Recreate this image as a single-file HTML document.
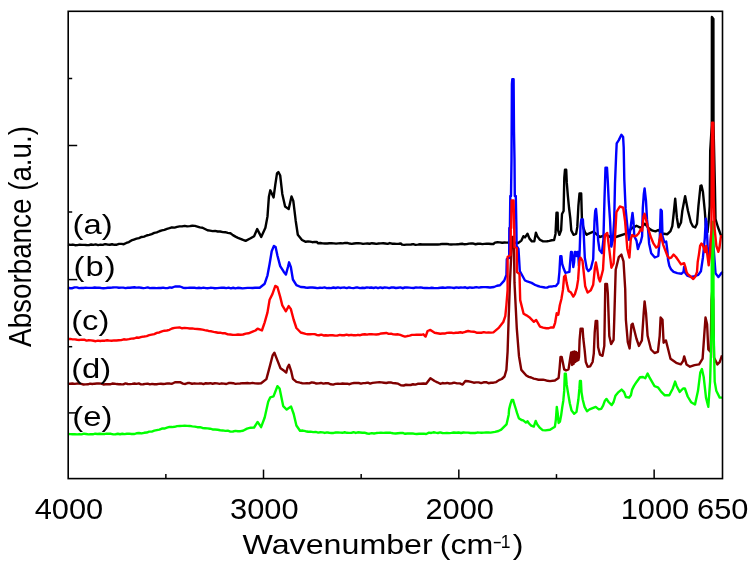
<!DOCTYPE html>
<html><head><meta charset="utf-8"><title>FTIR spectra</title>
<style>
html,body{margin:0;padding:0;background:#fff;}
body{width:749px;height:567px;overflow:hidden;}
svg{display:block;}
</style></head>
<body>
<svg width="749" height="567" viewBox="0 0 749 567">
<rect width="749" height="567" fill="#fff"/>
<g fill="none" stroke-width="2.4" stroke-linejoin="round" stroke-linecap="butt">
<polyline stroke="#000000" points="68,244.5 70.5,244.9 72.8,244.57 75.1,245.21 77.4,245.14 79.7,244.68 82,244.9 84.2,244.85 86.5,245.04 88.8,245.16 91.1,244.53 93.4,244.9 95.7,244.42 98.1,245.09 100.4,244.68 102.8,244.92 105.1,244.18 107.4,244.53 109.8,244.72 112.1,244.23 114.4,244.82 116.8,244.72 119.1,243.89 121.5,243.83 123.8,244.2 126.3,242.97 128.9,242.06 131.4,240.4 133.9,239.53 136.5,238.62 139,238.05 141.6,236.94 144.1,236.6 146.6,235.49 149.2,234.82 151.7,234.02 154.3,232.92 156.8,232.3 159.3,231.24 161.9,230.41 164.4,229.8 167,228.83 169.5,228.2 172,227.32 174.6,227.6 177.1,226.9 179.6,226.4 182.1,226.39 184.7,225.84 187.2,226.42 189.8,226.16 192.3,225.7 194.9,225.86 197.4,226.55 199.9,227.4 202.5,227.7 207.5,230.2 210,230.65 212.6,231.11 215.1,230.91 217.7,231.54 220.2,231.5 222.8,232.1 225.3,232.22 227.8,232.93 230.4,233.3 232.9,235.14 235.5,236.61 238,237.8 240.5,238.84 243.1,239.95 245.6,240.9 250.6,238.3 254.1,236.2 257.2,229.1 261.2,236.9 265.4,227.7 267.5,216.4 268.9,196.7 270.3,190.3 273.6,197.4 275.3,184.7 277,173.4 278.4,172 280.2,175.5 282.3,193.9 285.1,206.5 288.7,209.1 291.5,196.4 293.3,200.9 295.7,220.7 297.8,234.8 302,240 305.8,241.8 308,241.42 310.2,241.65 312.4,242.19 314.6,241.88 316.8,242 318.2,243.3 320.4,243.01 322.7,243.35 324.9,243.5 327.2,243.48 329.4,243.21 331.6,243.28 333.9,243.35 336.1,243.59 338.3,243.37 340.6,243.26 342.8,243.35 345.1,242.94 347.3,242.96 349.5,243.56 351.8,243.82 354,243.47 356.2,243.3 358.5,243.1 360.7,243.4 363,243.84 365.2,243.66 367.4,243.45 369.7,243.75 371.9,243.19 374.1,243.45 376.4,243.85 378.6,243.52 380.9,243.41 383.1,243.25 385.3,243.51 387.6,243.88 389.8,243.03 392,243.73 394.3,243.77 396.5,243.84 398.8,243.71 401,243.5 402,244.6 404.2,244.87 406.5,244.6 408.8,244.63 411,244.5 413.2,244.16 415.5,244.88 417.8,244.6 420,244.26 422.2,244.53 424.5,244.5 426.8,244.38 429,244.5 431.2,244.33 433.4,244.46 435.6,244.5 437.9,244.46 440.1,244.28 442.3,243.86 444.5,244.01 446.7,243.92 448.9,244.25 451.1,244.47 453.4,244.38 455.6,244.34 457.8,244.32 460,244 462.2,243.78 464.5,244.31 466.7,244.16 468.9,243.62 471.1,243.57 473.4,243.56 475.6,244.23 477.8,243.77 480,243.65 482.3,244.11 484.5,243.86 486.7,243.61 488.9,243.69 491.2,244.02 493.4,244 495,242.6 497.4,242.3 499.8,242.4 502.2,242.79 504.6,242.56 507,242.6 509.2,242.52 511.5,242.74 513.7,242.41 516,242.82 518.2,243 521.4,240.6 523.4,236.2 525,237.4 527.5,233.8 529.5,238.6 531.9,241.4 534.3,241.4 535.9,232.6 537.5,236.6 539.9,239.8 543.1,241.4 547,241.3 549.4,240.83 551.7,240.22 554.1,240.1 555.5,233.9 556.5,212.8 557.6,212.8 558.1,230.4 559.4,234.8 561.1,230.4 562,214 563.6,211 564.3,177.6 565,169.7 566.2,169.7 566.8,182.9 567.8,195.2 569,207.5 570.3,218.1 571.3,230.4 573.5,234.8 576.1,233.9 577.3,226.9 578.4,205.8 579.5,193.5 581.2,193.5 581.9,218.1 583.1,226.9 584.9,232.2 586.7,234.8 588.2,233.8 593.5,231.7 599.8,237 606.2,234.9 612.5,238.1 618.8,236 625.2,233.8 628,232.1 632.2,227.9 636.5,225.8 640.7,227.9 644.9,223.7 649.1,228.6 652.6,230.7 655.5,231.4 658.3,230 661.8,233.5 667.4,234.2 670.5,231.1 672.3,226.2 673.7,213.5 675.2,198.7 676.9,217.7 678.5,227.4 681,222.5 682.3,211 685.1,196.1 688,211 690.9,222.5 693,226.5 695.2,227.4 697,223.7 698.4,206.4 700.5,185.8 701.5,185.5 702.9,191.7 704.8,211 705.8,224.7 707.5,232 708.6,222 709.7,206 710.2,151 711.8,125 711.9,17 713.4,19 713.5,124 714.9,186 715.5,219 717.9,227 721.3,236.3 722.5,237"/>
<polyline stroke="#0000ff" points="68,287.8 70.2,288.21 72.4,288.2 74.6,287.39 76.9,287.42 79.1,288.09 81.3,288 83.5,287.94 85.7,287.61 87.9,287.88 90.1,287.87 92.3,287.85 94.6,287.47 96.8,287.71 99,287.67 101.2,287.97 103.4,288.21 105.6,288.17 107.8,287.8 110,287.71 112.3,287.55 114.5,287.34 116.7,287.33 118.9,287.72 121.1,287.59 123.3,287.64 125.5,288.1 127.7,287.77 130,287.79 132.2,287.5 134.4,287.31 136.6,287.58 138.8,287.4 141,287.74 143.2,288.18 145.4,287.88 147.7,287.44 149.9,288.08 152.1,287.99 154.3,287.93 156.5,288.08 158.7,287.95 160.9,287.97 163.1,287.58 165.4,288.14 167.6,288.12 169.8,287.4 172,287.7 175,286.5 180,286.5 183,287.7 185.3,287.94 187.6,287.92 189.8,287.7 192.1,287.78 194.4,287.75 196.7,288.15 199,287.78 201.2,288.09 203.5,287.68 205.8,288.16 208.1,288.19 210.4,287.81 212.6,287.92 214.9,288.25 217.2,288.08 219.5,287.88 221.8,287.65 224,287.76 226.3,288.11 228.6,287.64 230.9,288.32 233.2,287.76 235.4,288.35 237.7,287.82 240,288 242.5,288.38 245,288.12 247.5,287.9 250,287.88 252.5,287.97 255,287.8 259.7,287.7 264.7,283.7 267.5,275.3 269.6,264 271.7,251.3 273.9,245.9 275.6,247 277.4,255.5 280.2,266.1 283.7,271.7 285.9,274.6 288,266.8 289.1,262.3 290.8,266.8 292.9,279.5 296.4,285.1 300.7,287 304.9,287.3 305,287.6 307.5,287.71 310,287.5 312.5,287.44 315,287.74 317.5,288.16 320,287.8 322.2,287.91 324.5,287.42 326.7,288.09 328.9,288 331.2,288.17 333.4,287.52 335.6,288.02 337.9,287.4 340.1,287.94 342.3,287.6 344.6,287.55 346.8,288.14 349,287.45 351.2,287.82 353.5,288.12 355.7,287.57 357.9,287.54 360.2,288.14 362.4,287.73 364.6,288 366.9,287.38 369.1,287.68 371.3,287.5 373.6,287.96 375.8,287.42 378,288.21 380.3,287.37 382.5,288.01 384.7,287.37 387,287.58 389.2,288.08 391.4,287.49 393.7,287.52 395.9,287.97 398.1,287.7 400.4,287.39 402.6,288.24 404.8,287.49 407,287.38 409.3,287.66 411.5,287.9 413.7,288.02 416,287.45 418.2,287.65 420.4,287.38 422.7,287.75 424.9,288.04 427.1,288.02 429.4,288.16 431.6,287.8 433.8,288.02 436.1,288.1 438.3,287.95 440.6,287.73 442.8,287.5 445.1,287.88 447.3,287.55 449.6,287.35 451.8,287.65 454.1,288.02 456.3,287.34 458.6,287.74 460.8,287.55 463,287.65 465.3,287.31 467.5,288.03 469.8,287.39 472,287.69 474.3,287.51 476.5,287.14 478.8,287.61 481,287.22 483.3,287.14 485.5,287.1 487.8,287.21 490,287.5 494,287 497,285.74 500,285.2 504.2,280.6 506.4,275 506.8,259 509.2,258 509.3,228 509.9,228 510.3,196 511,196 511.5,160 511.9,84 512.3,79.2 513.6,79.2 514,132 514.5,160 514.8,196 515.8,196 516.4,228 516.6,246 518.5,249 519.8,271 525,280.5 527.2,281.42 529.4,282.11 531.6,282.9 534.4,284.57 537.2,285.76 540,286.6 544.8,287.5 547,287.65 549.2,286.66 551.5,286.55 553.7,286.08 555.9,286 558.3,283.1 559.4,272 560.3,256.1 561.4,256.1 562.2,264 563.8,268.8 565.4,272.8 569.4,271.9 570.5,257.6 571,252 571.8,252 572.5,257.6 573.3,267.1 574.1,262.4 574.8,252 575.6,252 576.5,256 577.4,252 578.1,252 578.9,265.6 579.7,249.7 580.5,225.9 581.3,219.5 582.9,219.5 583.7,233.8 584.8,257.6 586.8,268.7 588.4,271.1 590.8,268.7 593.2,259.2 594.5,221.2 595.2,211 596,208.9 596.8,217.3 598.1,240 599.5,250 601.9,253 603.4,240 604.5,198.3 605.5,167.6 607,167.6 607.8,181.3 608.7,200.4 610,219.4 611.3,246.6 612.9,240 614.2,220 615,183.5 616.1,156 616.7,143.3 618.8,140.1 621.4,134.8 623.1,136.9 623.7,147.5 624.3,179.2 625.6,208.9 627.3,225.8 629,239.8 631.3,222 632.5,213 633.5,222 634.3,236.3 636.5,240.6 637.9,249 639.3,244.8 640.7,242 642.1,236.3 642.8,208.2 643.8,194.1 644.6,188.5 646,201 647,219.4 648.4,233.5 649.1,243.4 651.2,253.2 654.8,257.5 658.3,256 659.7,239.2 660.7,209.6 661.8,211 662.5,236 664.3,242.2 666.2,241.6 667.4,250.9 668,259.5 669.3,265.7 671.1,269.4 673.6,271.9 677.3,273.1 681.6,273.7 683.5,271.9 684.1,266.9 685.3,273.1 687.2,275.6 690.9,277 694.6,276.2 698.3,274.9 700.9,271.3 702.9,257.7 704.8,238.3 705.8,218.8 706.7,224.7 707.7,248 708.7,261.6 709.7,253.8 711,235 712.2,230 713.4,245 715.5,273.2 718.4,277.1 721.3,273.2 722.5,272"/>
<polyline stroke="#800000" points="68,384 70.2,383.68 72.4,383.52 74.6,383.86 76.9,383.57 79.1,383.46 81.3,383.86 83.5,384.47 85.7,384.33 87.9,384.28 90.1,383.62 92.3,384 94.6,383.68 96.8,383.55 99,383.47 101.2,383.59 103.4,384.44 105.6,384.32 107.8,384.29 110,384.28 112.3,383.55 114.5,383.68 116.7,384.06 118.9,384.18 121.1,384.32 123.3,384.35 125.5,383.39 127.7,384.01 130,384.09 132.2,383.88 134.4,383.49 136.6,383.84 138.8,383.37 141,384.38 143.2,384.29 145.4,383.91 147.7,383.61 149.9,384.33 152.1,383.93 154.3,384.29 156.5,384.25 158.7,383.84 160.9,383.72 163.1,383.94 165.4,383.73 167.6,383.4 169.8,383.57 172,383.8 175,382.2 180,382.2 183,383.6 185.3,383.97 187.6,383.04 189.8,383.04 192.1,383.74 194.4,383.32 196.7,383.62 199,383.54 201.2,383.38 203.5,384.16 205.8,383.19 208.1,383.45 210.4,383.2 212.6,383.71 214.9,383.28 217.2,383.37 219.5,383.83 221.8,383.32 224,383.6 226.3,384.01 228.6,383.04 230.9,382.99 233.2,383.19 235.4,383.83 237.7,383.64 240,383.5 242.5,383.17 245,383.26 247.5,383.06 250,383.38 252.5,382.87 255,383.4 258.1,383.54 261.1,383.2 266.4,379.1 270,365.6 272.6,355.5 274.4,352.7 277,359.4 280.5,368.2 284.1,370.8 286.2,372.6 287.6,367.3 289,364.7 291.1,370.8 292.9,378.8 296.4,381.8 300,382.7 302.3,383.22 304.7,383.33 307,383.11 309.3,383.42 311.7,382.33 314,382.7 316.3,383.55 318.7,383.36 321,382.97 323.3,383.65 325.7,383.3 328,383.2 330.8,384.3 333.1,384.6 335.5,383.89 337.9,383.68 340.2,383.9 342.5,383.45 344.9,383.8 347.2,383.59 349.5,384.22 351.8,383.4 354.1,382.95 356.4,382.93 358.7,383.02 361,383.69 363.3,383.12 365.6,382.97 367.9,382.67 370.2,383.67 372.5,382.93 374.8,382.61 377.1,382.37 379.4,382.3 381.7,382.37 384,382.7 386.3,383.01 388.5,382.48 390.8,382.45 393,383.09 395.3,383.2 398.1,383.67 400.9,385.33 403.7,385.5 406,384.76 408.4,384.97 410.7,384.98 413,384.26 415.4,384.67 417.7,383.8 420.5,383.77 423.4,383.49 426.2,383.8 430.4,378.2 434.6,381 437.4,382.29 440.2,383.8 442.5,383.06 444.9,383.34 447.2,382.95 449.5,383.53 451.9,383.28 454.2,382.7 457,383.33 459.8,383.4 462.6,384.6 465.4,381 468.2,381.27 471,381.82 473.8,382.7 476.2,382.35 478.7,382.38 481.1,383.14 483.6,382.27 486.1,382.16 488.5,383.21 490.9,382.78 493.4,382.7 496.2,382.06 499,380.12 501.8,379 504.5,376.5 506.4,369.9 507.6,351.6 508.7,317.2 509.9,282.9 511.5,250 512.2,237 513.8,237 514.5,282.9 516.8,328.7 519,356.2 521.3,369.9 526.3,375.5 528.8,376.88 531.2,377.48 533.7,378.55 536.2,379.1 538.5,379.73 540.7,379.77 543,379.63 545.2,380.11 547.5,380.8 550,381.1 554.9,380.5 558.6,378 559.6,368.1 560.5,357 561.7,357 563,363.2 564.2,369.4 566,370.4 568.5,369.4 570.4,357 571.2,352.5 572,365 572.8,352 573.6,364 574.4,351.5 575.2,362 576,352 576.8,361 577.6,353 578.4,360 579,357 579.6,339.8 580.6,328.6 582.6,328.6 583.3,338.5 584.6,349.6 585.8,362 587.7,366.9 590.1,366.3 592.6,362 593.8,353.3 594.7,332.3 595.7,321 597.2,321 598.1,347.2 600,354.6 602.5,355.8 604.3,345.9 605.3,284 607,284 607.8,293.1 609.3,336 611.1,344.1 613.6,339.8 614.2,321.2 615.7,269.8 618.8,257.1 621.4,254.6 623.5,261.3 625.2,288.8 625.9,320 627.8,342.2 629.6,348.4 631.5,324.9 632.7,323.7 636.4,338.5 638.9,345.9 641.9,340.4 643.7,312.9 644.6,301.4 646,312.9 647.6,335.8 651,349.5 654.5,353 657.9,351.8 659.7,335.8 660.6,317.5 662.5,319.8 663.6,342.7 665.9,340.4 668.2,349.5 670.5,358.7 676.2,362.8 680.8,364.4 683.1,361 684.2,356.4 686.5,364.4 690,366.7 694.5,365.1 699.1,364.4 702.6,358.7 704.2,335.8 705.5,317.5 707.1,324.3 708.3,349.5 710.6,351.8 711.5,300 712.3,290 713.2,300 714,357.6 717.4,364.4 719.7,362.1 722,355.3"/>
<polyline stroke="#00ff00" points="68,434 70.3,434.1 72.5,434.19 74.8,434.24 77.1,434.35 79.3,434.19 81.6,434.34 83.8,433.62 86.1,433.97 88.4,434.35 90.6,434.12 92.9,434.32 95.2,433.69 97.4,433.98 99.7,433.8 102,434.04 104.2,434.06 106.5,433.61 108.8,433.77 111,433.82 113.3,434.33 115.6,434.21 117.8,433.73 120.1,434.24 122.3,433.71 124.6,434.09 126.9,433.7 129.1,433.6 131.4,434 133.9,434.06 136.5,433.29 139,433.05 141.6,433.43 144.1,432.8 146.7,432.57 149.2,431.58 151.8,431.59 154.3,430.7 156.8,430.1 159.4,429.58 161.9,428.56 164.4,428.52 167,427.69 169.5,426.9 172,427.07 174.6,426.81 177.1,426.14 179.7,425.99 182.2,425.9 184.7,425.76 187.2,425.87 189.8,425.93 192.3,426.4 194.8,426.6 197.4,427.2 199.9,427.08 202.5,427.98 205,428.2 207.5,428.4 210.1,428.71 212.6,429.45 215.1,429.52 217.7,429.72 220.2,430.2 222.7,430.44 225.3,430.88 227.8,430.63 230.4,431.62 232.9,431.5 235.4,430.92 237.9,431.3 240.5,431.18 243,430.7 247,428.6 250.6,427.7 254.1,427.5 257.6,421.9 261.1,427.2 264.7,417.5 268.2,401.7 270.3,397.3 273.5,396.4 277.4,386.2 279.6,388.5 283.2,406.1 286.7,409.6 291.1,406.6 293.7,414 296.4,425.5 300,430.7 302.8,430.56 305.6,431.2 308.1,431.71 310.6,431.65 313.2,432.1 315.7,431.93 318.2,432.6 320.4,432.24 322.6,432.34 324.8,432.96 327,432.36 329.2,432.8 331.4,432.94 333.6,432.95 335.8,432.48 338,432.48 340.2,432.62 342.5,432.82 344.7,432.29 346.9,432.8 349.1,432.84 351.3,432.89 353.5,432.23 355.7,432.96 357.9,432.27 360.1,432.47 362.3,432.69 364.5,432.6 367.3,433.5 369.5,433.71 371.8,433.13 374,433.48 376.3,433.06 378.5,432.9 380.9,432.79 383.4,432.83 385.8,432.75 388.2,432.71 390.7,432.81 393.1,433.28 395.6,433.56 398,433.2 400.4,433 402.7,432.97 405.1,433.79 407.4,433.49 409.8,433.46 412.1,433.39 414.4,433.74 416.8,433.99 419.1,433.76 421.5,433.8 423.8,433.58 426.2,434 429,432.6 431.2,432.96 433.5,432.29 435.7,432.68 438,432.99 440.2,432.45 442.4,432.97 444.7,433.17 446.9,432.94 449.2,433.1 451.4,432.9 453.8,432.54 456.2,432.76 458.6,432.49 461,433 463.4,432.52 465.8,432.61 468.2,432.6 470.4,433 472.7,432.88 474.9,432.98 477.2,432.56 479.4,432.59 481.6,432.78 483.9,432.58 486.1,432.43 488.4,432.52 490.6,432.6 495,431.9 498.5,431 501.2,429.7 506.5,424.4 507.3,420.9 508.7,414.7 509.1,409.4 510.4,404.1 511.8,399.9 513.1,399.9 514,403.2 515.7,408.5 517,412.9 518.8,418.2 521.5,420 523.2,420.4 525.9,422.6 527.6,421.3 529,423.5 531.2,425.7 533.8,426.6 535.7,420.9 537.3,424.4 540,427.9 542.6,430.1 545.4,430.4 550,429.8 554.9,426.7 555.9,419.3 556.8,406.9 557.7,413.1 558.6,423 559.9,421.7 561.1,415.6 562.3,406.9 563.3,400.7 564.2,390.9 564.8,373.6 565.8,373.6 566.7,384.7 567.9,392.1 569.8,403.2 571.6,410.6 574.1,413.7 576.5,411.9 578.4,399.5 579.4,388.4 579.9,381 580.9,381 581.5,392.1 582.7,399.5 584.6,406.9 587,411.2 589.5,409.4 592.6,408.1 595.7,406.9 598.8,409.4 601.2,408.8 603.1,405.7 604.9,400.7 606.5,398.9 608.6,402 611.7,405.1 613.6,402 615.4,395.8 617.9,392.7 621.6,389.6 624.1,392.1 625.9,397 629,397.7 630.9,395.2 632.1,389.6 634,385.9 636.4,382.2 640,377.3 643,377 645.3,378.2 647.6,373.6 649.9,378.2 654.5,386.2 657.9,387.3 661.3,391.9 664.8,395.3 669.3,395.3 672.8,388.5 675.1,381.6 676.7,386.2 679.7,391.9 683.1,388.5 684.9,388.5 687.7,396.5 691.1,402.2 695,404.5 698,390.8 700.3,372.4 701.9,369 703.7,377 706,397.6 708.3,406.8 710.1,381.6 711.6,330 711.9,222 713.3,222 713.6,330 714.7,381.6 716.3,390.8 719.7,397.6 722,397.6"/>
<polyline stroke="#ff0000" points="68,339 70.3,338.93 72.6,339.37 74.9,339.37 77.2,339.75 79.5,339.93 81.9,339.59 84.2,339.71 86.5,340.61 88.8,340.26 91.1,340.4 93.4,340.8 95.7,341.2 98,340.68 100.3,340.97 102.6,340.6 104.9,340.7 107.2,340.21 109.5,340.6 111.8,340.77 114.1,340.41 116.4,340.56 118.7,340.3 121.2,340.15 123.8,339.31 126.3,339.63 128.9,339.18 131.4,338.62 134,338.5 136.5,337.53 139.1,337.73 141.6,336.83 144.1,336.5 146.7,336.09 149.2,335.2 151.7,334.64 154.3,334.08 156.8,332.86 159.3,332.47 161.9,331.4 164.4,330.7 166.9,330.47 169.5,329.8 172,328.48 174.6,327.89 177.1,327.6 179.6,327.47 182.1,328.27 184.7,327.92 187.2,328.1 189.8,328.46 192.3,328.42 194.8,328.86 197.4,329 199.9,329.22 202.5,329.6 204.7,330.06 206.9,330.45 209.1,331.13 211.3,331.31 213.6,331.92 215.8,332.25 218,332.75 220.2,332.7 222.8,333.3 225.3,333.3 227.8,334.37 230.4,334.5 232.9,334.92 235.4,334.86 238,334.56 240.5,334.69 243,334.5 245.8,333.64 248.5,333.3 253.2,331.4 255.5,330.5 257.6,328.7 261.9,330.5 264.7,322.3 267.5,312.4 269.6,299.7 272.4,294.1 275.3,285.9 277.4,287 280.2,296.9 282.3,305.4 285.9,311.3 288.7,306.1 290.8,308.9 293.6,319.5 296.4,328 300.7,332.5 300.7,332.5 305.6,333.8 307.8,334.27 310.1,334.21 312.3,334.12 314.6,334.09 316.8,334.97 319,335.26 321.3,334.62 323.5,335.43 325.8,335.25 328,335.5 330.3,335.14 332.7,335.21 335,335.59 337.3,335.64 339.7,334.84 342,335.2 344.3,335.25 346.6,334.68 348.8,335.23 351.1,334.82 353.4,335.26 355.7,335.3 358,334.81 360.2,335.2 362.5,334.52 364.8,334.26 367.1,334.67 369.4,334.1 371.7,334.2 373.9,334.33 376.2,334.46 378.5,334.3 381.2,333.44 384,333.2 386.3,332.97 388.7,333.9 391,333.58 393.3,334.35 395.7,334.47 398,334.3 400.3,334.96 402.7,335.8 405,336.6 407.3,336.05 409.7,335.6 412,334.9 414.3,334.87 416.6,334.71 418.8,334.65 421.1,334.82 423.4,334.3 425.6,336.6 427.6,331 430.4,329.9 434.6,332.7 437.4,333.26 440.2,333.8 442.4,333.52 444.7,333.56 446.9,332.9 449.2,332.74 451.4,332.7 453.6,333.13 455.9,332.72 458.1,332.74 460.4,332.26 462.6,332.7 465.4,331.77 468.2,331 471,331.64 473.8,331.7 476.6,332.7 479,332.76 481.4,332.73 483.8,332.18 486.2,332.64 488.6,332.46 491,332.6 493.4,332.4 499,327.6 503.3,322 505.3,316.1 506.4,305 507.6,290 507.6,257 510.5,255 510.8,228 511.2,228 511.6,200.5 513.6,200.5 514.2,228 514.5,247 516.8,248 516.9,272 519.5,274 520.2,300.1 523.6,313.8 526.5,315.37 529.3,317.2 533.9,321.8 536.2,320 540,326.7 543.1,327.69 546.3,328.3 548.7,328.25 551.1,327.34 553.5,327.5 555.1,322.8 556.7,313.3 558.3,314.8 559.8,305.3 561.4,299 563,289.4 564.1,276.7 565.4,275.2 566.7,283.1 568.6,291 571,292.6 573.3,296.6 574.9,294.2 576.8,287.9 578.1,279.9 579.4,260.9 580.5,257.7 582.5,260.9 583.7,272 585.2,286.3 587.6,292.6 590.8,290.2 593.2,284.7 594.8,268.8 595.9,262.5 597.1,268.8 598.7,278.3 600,281.5 603,269.8 604.9,235.2 607.2,232.9 609.5,251.2 611.4,267.7 613.6,263.5 616.4,212.2 619.8,206.5 623.2,207.6 625.1,221.4 627.3,248.7 629.4,257.5 630.8,239.2 632.2,234.9 634.3,236.3 636.5,235.6 638.6,233.5 640.7,229.3 642.1,230.7 643.5,216.6 644.6,213.8 646,219.4 647.7,226.5 650.5,236.3 653.4,243.4 656.2,247.6 658.3,246.2 659.7,239.2 660.7,234.2 661.8,239.2 663.2,244.8 665.3,250.4 667.4,255.8 669.3,258.3 671.1,257.7 673.6,254.6 676,257 678.5,260.7 681,264.4 684.1,263.2 685.3,266.9 686.5,271.9 687.8,274.3 690.9,276.8 693.3,279 695.2,276.8 697,271.9 697.7,262 698.9,254.6 700.1,245.9 701.4,243.5 702.6,244.7 703.8,247.8 705.1,252.1 706.2,246 707.7,257.7 708.7,265.4 710,253.8 711.4,230 712,122.7 713.3,122.7 713.7,200 714.6,228.5 716.4,246 718.4,251.8 719.4,248 720.9,236.3 722.5,236"/>
</g>
<rect x="68.2" y="11.3" width="654.3" height="467.3" fill="none" stroke="#000" stroke-width="1.6"/>
<g stroke="#000" stroke-width="1.5">
<line x1="165.86" y1="478.6" x2="165.86" y2="474.1"/>
<line x1="263.51" y1="478.6" x2="263.51" y2="469.6"/>
<line x1="361.17" y1="478.6" x2="361.17" y2="474.1"/>
<line x1="458.83" y1="478.6" x2="458.83" y2="469.6"/>
<line x1="556.48" y1="478.6" x2="556.48" y2="474.1"/>
<line x1="654.14" y1="478.6" x2="654.14" y2="469.6"/>
<line x1="68.2" y1="78.5" x2="72.2" y2="78.5"/>
<line x1="68.2" y1="145.5" x2="77.2" y2="145.5"/>
<line x1="68.2" y1="212" x2="72.2" y2="212"/>
<line x1="68.2" y1="279.6" x2="77.2" y2="279.6"/>
<line x1="68.2" y1="346.7" x2="72.2" y2="346.7"/>
<line x1="68.2" y1="412.9" x2="77.2" y2="412.9"/>
</g>
<g font-family="'Liberation Sans', Arial, sans-serif" fill="#000">
<text transform="translate(69.00,519.00) scale(1.062,1)" text-anchor="middle" font-size="29">4000</text>
<text transform="translate(264.31,519.00) scale(1.062,1)" text-anchor="middle" font-size="29">3000</text>
<text transform="translate(459.63,519.00) scale(1.062,1)" text-anchor="middle" font-size="29">2000</text>
<text transform="translate(654.94,519.00) scale(1.062,1)" text-anchor="middle" font-size="29">1000</text>
<text transform="translate(722.80,519.00) scale(1.062,1)" text-anchor="middle" font-size="29">650</text>
<text transform="translate(72.50,234.20) scale(1.15,1)" text-anchor="start" font-size="28.5">(a)</text>
<text transform="translate(73.50,275.80) scale(1.15,1)" text-anchor="start" font-size="28.5" letter-spacing="0.9">(b)</text>
<text transform="translate(71.20,330.20) scale(1.15,1)" text-anchor="start" font-size="28.5">(c)</text>
<text transform="translate(71.20,378.20) scale(1.15,1)" text-anchor="start" font-size="28.5">(d)</text>
<text transform="translate(72.30,426.30) scale(1.15,1)" text-anchor="start" font-size="28.5">(e)</text>
<text transform="translate(242.5,554.3) scale(1.13,1)" font-size="28.5">Wavenumber<tspan dx="-1.7"> (cm</tspan></text><text transform="translate(492.6,548.3) scale(1.6,1)" font-size="18">-</text><text transform="translate(500.7,547.5)" font-size="17.5">1</text><text transform="translate(512.8,554.3) scale(1.13,1)" font-size="28.5">)</text>
<text transform="translate(30.7,346.9) rotate(-90) scale(1,1.13)" font-size="27.8">Absorbance (a.u.)</text>
</g>
</svg>
</body></html>
